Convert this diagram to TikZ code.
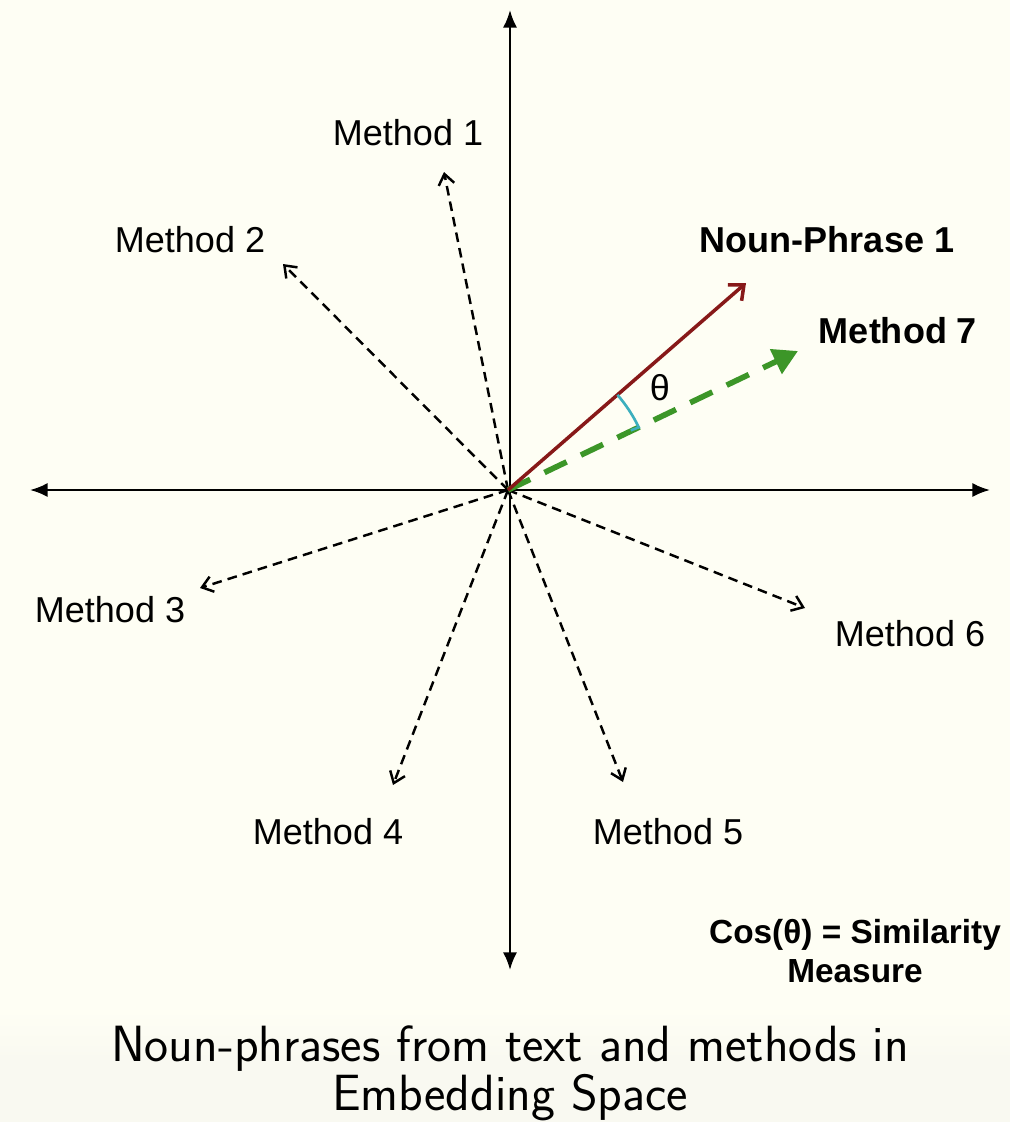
\documentclass[tikz,border=0pt]{standalone}
\usepackage{fontspec}
\setmainfont{Liberation Sans}
\usetikzlibrary{arrows.meta}
\definecolor{bgc}{RGB}{254,254,244}
\definecolor{capbg}{RGB}{249,249,241}
\definecolor{npred}{RGB}{135,25,25}
\definecolor{mgreen}{RGB}{60,150,40}
\definecolor{arccyan}{RGB}{60,175,190}
\tikzset{
  axis/.style={line width=1.3pt,{Latex[length=10pt,width=8pt]}-{Latex[length=10pt,width=8pt]}},
  meth/.style={line width=1.4pt,dash pattern=on 5.5pt off 3.5pt,-{Straight Barb[length=6pt,width=9pt,line width=1.4pt]}},
  lbl/.style={font=\fontsize{20.5}{24}\selectfont,inner sep=0pt},
  blbl/.style={font=\fontsize{20.5}{24}\selectfont\bfseries,inner sep=0pt},
  cosl/.style={font=\fontsize{19}{24}\selectfont\bfseries,inner sep=0pt,align=center},
  capl/.style={font=\sffamily\fontsize{29}{32}\selectfont,inner sep=0pt,align=center}
}
\begin{document}
\begin{tikzpicture}[x=0.02cm,y=-0.02cm]
\fill[bgc] (0,0) rectangle (1010,1122);
\shade[top color=bgc,bottom color=capbg] (0,1010) rectangle (1010,1060);
\fill[capbg] (0,1060) rectangle (1010,1122);
\useasboundingbox (0,0) rectangle (1010,1122);
\coordinate (O) at (508,490);
\coordinate (top) at (510,10);
\coordinate (bot) at (510,970);
\coordinate (left) at (30,490);
\coordinate (right) at (990,490);
\draw[axis] (bot) -- (top);
\draw[axis] (left) -- (right);
\coordinate (m1) at (444,172);
\coordinate (m2) at (283,264);
\coordinate (m3) at (200,588);
\coordinate (m4) at (393,785);
\coordinate (m5) at (623,782);
\coordinate (m6) at (805,608);
\coordinate (m7) at (798,351);
\coordinate (np) at (746,283);
\foreach \m in {m1,m2,m3,m4,m5,m6} \draw[meth] (O) -- (\m);
\draw[mgreen,line width=3.2pt,dash pattern=on 14pt off 9pt,-{Triangle[length=14pt,width=15pt]}] (O) -- (m7);
\draw[npred,line width=2pt,-{Straight Barb[length=7pt,width=12pt,line width=2pt]}] (O) -- (np);
\draw[arccyan,line width=1.5pt] ([shift={(41:145*0.02cm)}]O) arc[start angle=41,end angle=25.6,radius=2.9cm] -- ++(-8,3);
\node[lbl] (t) at (660,388) {θ};
\node[lbl] (l1) at (408,133) {Method 1};
\node[lbl] (l2) at (190,240) {Method 2};
\node[lbl] (l3) at (110,610) {Method 3};
\node[lbl] (l4) at (328,832) {Method 4};
\node[lbl] (l5) at (668,832) {Method 5};
\node[lbl] (l6) at (910,634) {Method 6};
\node[blbl] (lnp) at (827,240) {Noun-Phrase 1};
\node[blbl] (l7) at (898,331) {Method 7};
\node[cosl] (cos) at (855,951) {Cos(θ) = Similarity\\[-2pt]Measure};
\node[capl] (cap) at (510,1073) {Noun-phrases from text and methods in\\[-4pt]Embedding Space};
\end{tikzpicture}
\end{document}
